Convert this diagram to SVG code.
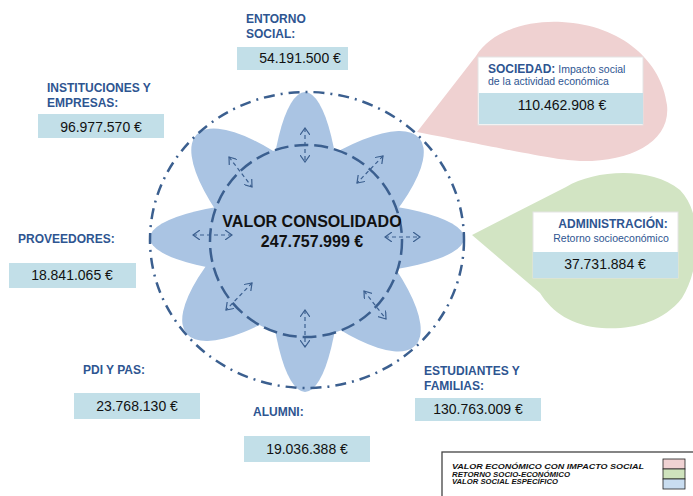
<svg xmlns="http://www.w3.org/2000/svg" width="693" height="496" viewBox="0 0 693 496">
<defs>
<style>
.lbl{font-family:"Liberation Sans",Arial,sans-serif;font-weight:bold;font-size:12px;fill:#2e5591}
.val{font-family:"Liberation Sans",Arial,sans-serif;font-size:14px;fill:#111;text-anchor:middle}
.box{fill:#c2dfe8}
.petal{fill:#aac4e3}
.sub{font-family:"Liberation Sans",Arial,sans-serif;font-size:10.5px;fill:#2e5591}
.leg{font-family:"Liberation Sans",Arial,sans-serif;font-weight:bold;font-style:italic;font-size:7.6px;fill:#111}
.arr{stroke:#3b5f8f;stroke-width:1.2;stroke-dasharray:4 3;fill:none;marker-start:url(#ah);marker-end:url(#ah)}
</style>
<marker id="ah" viewBox="0 0 8 10" refX="7" refY="5" markerWidth="8" markerHeight="10" markerUnits="userSpaceOnUse" orient="auto-start-reverse">
<path d="M0,0 L7,5 L0,10" fill="none" stroke="#3b5f8f" stroke-width="1.2"/>
</marker>
</defs>
<rect width="693" height="496" fill="#fff"/>

<g id="bubble-sociedad">
<path d="M417,132 L476,56 C492,30 530,20 562,22 C622,25 662,62 667,105 C671,142 630,162 580,161 C556,160 530,154 417,132 Z" fill="#efd1d1"/>
<rect x="478" y="57" width="165" height="68" fill="#fff" stroke="#e4e4e4"/>
<rect x="479" y="93" width="164" height="31" class="box"/>
<text x="488" y="73"><tspan class="lbl">SOCIEDAD:</tspan><tspan class="sub" dx="3">Impacto social</tspan></text>
<text x="488" y="85" class="sub">de la actividad económica</text>
<text x="562" y="110" class="val">110.462.908 €</text>
</g>

<g id="bubble-administracion">
<path d="M472,235 L566,187 C595,170 650,166 680,190 C704,214 700,270 682,298 C662,324 628,330 602,328 C572,326 552,312 540,293 Z" fill="#d2e4c3"/>
<rect x="533" y="212" width="145" height="66" fill="#fff" stroke="#e4e4e4"/>
<rect x="533" y="252" width="145" height="26" class="box"/>
<text x="613" y="228" class="lbl" text-anchor="middle">ADMINISTRACIÓN:</text>
<text x="611" y="242" class="sub" text-anchor="middle">Retorno socioeconómico</text>
<text x="605" y="269" class="val">37.731.884 €</text>
</g>

<g id="flower">
<ellipse class="petal" cx="305" cy="242" rx="37" ry="150"/>
<ellipse class="petal" cx="307" cy="238" rx="157" ry="38"/>
<ellipse class="petal" cx="306" cy="240" rx="152" ry="50" transform="rotate(44 306 240)"/>
<ellipse class="petal" cx="303" cy="236" rx="152" ry="50" transform="rotate(-40 303 236)"/>
<circle cx="306" cy="241" r="96" class="petal"/>
<circle cx="306" cy="241" r="96" fill="none" stroke="#3b5f8f" stroke-width="2.5" stroke-dasharray="14 6"/>
<ellipse cx="307" cy="240" rx="157" ry="148" fill="none" stroke="#3b5f8f" stroke-width="2.5" stroke-dasharray="11 6 2 6"/>
<text x="312" y="227" font-family="Liberation Sans,Arial,sans-serif" font-weight="bold" font-size="16" fill="#111" text-anchor="middle">VALOR CONSOLIDADO</text>
<text x="312" y="247" font-family="Liberation Sans,Arial,sans-serif" font-weight="bold" font-size="16" fill="#111" text-anchor="middle">247.757.999 €</text>
</g>

<g id="connectors">
<line class="arr" x1="305" y1="128" x2="305" y2="162"/>
<line class="arr" x1="305" y1="310" x2="305" y2="347"/>
<line class="arr" x1="193" y1="235" x2="232" y2="235"/>
<line class="arr" x1="385" y1="237" x2="420" y2="237"/>
<line class="arr" x1="229" y1="157" x2="252" y2="187"/>
<line class="arr" x1="383" y1="156" x2="357" y2="183"/>
<line class="arr" x1="252" y1="283" x2="226" y2="310"/>
<line class="arr" x1="364" y1="291" x2="386" y2="319"/>
</g>

<g id="entorno-social">
<text x="246" y="23" class="lbl">ENTORNO</text>
<text x="246" y="38" class="lbl">SOCIAL:</text>
<rect x="237" y="47" width="111" height="23" class="box"/>
<text x="300" y="63" class="val">54.191.500 €</text>
</g>

<g id="instituciones">
<text x="47" y="92" class="lbl">INSTITUCIONES Y</text>
<text x="47" y="107" class="lbl">EMPRESAS:</text>
<rect x="38" y="114" width="126" height="24" class="box"/>
<text x="101" y="132" class="val">96.977.570 €</text>
</g>

<g id="proveedores">
<text x="18" y="243" class="lbl">PROVEEDORES:</text>
<rect x="9" y="263" width="127" height="25" class="box"/>
<text x="72" y="280" class="val">18.841.065 €</text>
</g>

<g id="pdi-pas">
<text x="83" y="374" class="lbl">PDI Y PAS:</text>
<rect x="74" y="393" width="126" height="26" class="box"/>
<text x="137" y="411" class="val">23.768.130 €</text>
</g>

<g id="alumni">
<text x="253" y="416" class="lbl">ALUMNI:</text>
<rect x="244" y="436" width="126" height="26" class="box"/>
<text x="307" y="454" class="val">19.036.388 €</text>
</g>

<g id="estudiantes">
<text x="424" y="375" class="lbl">ESTUDIANTES Y</text>
<text x="424" y="390" class="lbl">FAMILIAS:</text>
<rect x="415" y="398" width="126" height="23" class="box"/>
<text x="478" y="414" class="val">130.763.009 €</text>
</g>

<g id="legend">
<rect x="442" y="452" width="260" height="60" fill="#fff" stroke="#444" stroke-width="1.3"/>
<text x="452" y="469" class="leg" textLength="192" lengthAdjust="spacingAndGlyphs">VALOR ECONÓMICO CON IMPACTO SOCIAL</text>
<text x="452" y="476.5" class="leg" textLength="118" lengthAdjust="spacingAndGlyphs">RETORNO SOCIO-ECONÓMICO</text>
<text x="452" y="484" class="leg" textLength="106" lengthAdjust="spacingAndGlyphs">VALOR SOCIAL ESPECÍFICO</text>
<rect x="663" y="459" width="22" height="10" fill="#f0d2d3" stroke="#222" stroke-width="0.8"/>
<rect x="663" y="469" width="22" height="10" fill="#cfe3bd" stroke="#222" stroke-width="0.8"/>
<rect x="663" y="479" width="22" height="10" fill="#c9ddf0" stroke="#222" stroke-width="0.8"/>
</g>
</svg>
